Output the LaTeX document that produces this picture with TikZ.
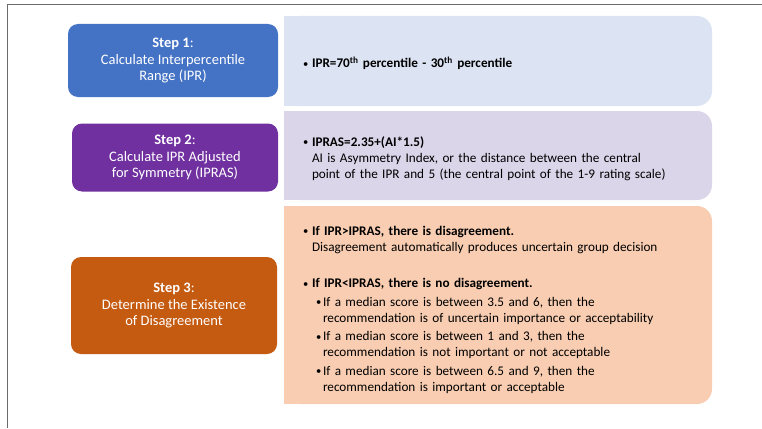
\documentclass[tikz,border=0pt]{standalone}
\usepackage{fontspec}
\setmainfont{Carlito}
\usetikzlibrary{backgrounds}

\definecolor{stepone}{HTML}{4472C4}
\definecolor{steptwo}{HTML}{7030A0}
\definecolor{stepthree}{HTML}{C55A11}
\definecolor{panelone}{HTML}{DCE3F2}
\definecolor{paneltwo}{HTML}{DAD5E9}
\definecolor{panelthree}{HTML}{F8CDB1}
\definecolor{frameline}{HTML}{6B6B6B}

%% bullet items for the right-hand panels
\newcommand\dotmark{\raisebox{0.6pt}{\scalebox{0.8}{\textbullet}}}
\newcommand\mainitem[1]{\par\noindent\hangindent=9pt\hangafter=1\makebox[9pt][l]{\dotmark}#1\par}
\newcommand\minoritem[1]{\par\noindent\hangindent=20pt\hangafter=1\hspace*{13pt}\makebox[7pt][l]{\dotmark}#1\par}

\begin{document}
\begin{tikzpicture}[x=1pt,y=-1pt]
  \tikzset{
    StepStyle/.style={fill=#1, text=white, rounded corners=10pt,
      align=center, inner sep=0pt, minimum width=210pt,
      font=\fontsize{14.5}{16.8}\selectfont},
    PanelStyle/.style={fill=#1, rounded corners=15pt, minimum width=428pt,
      inner xsep=19pt, inner ysep=0pt, text width=390pt, align=left,
      font=\fontsize{13.2}{16}\selectfont}
  }
  \useasboundingbox (0,0) rectangle (762,428);
  \draw[frameline, line width=1.6pt] (7.5,428) -- (7.5,4.5) -- (762,4.5);

  %% step boxes
  \node[StepStyle=stepone, minimum height=73pt] (S1) at (173,60.5)
    {\textbf{Step 1}:\\Calculate Interpercentile\\Range (IPR)};
  \node[StepStyle=steptwo, minimum height=68pt, minimum width=206pt] (S2) at (175,157.5)
    {\textbf{Step 2}:\\Calculate IPR Adjusted\\for Symmetry (IPRAS)};
  \node[StepStyle=stepthree, minimum height=97pt, minimum width=206pt] (S3) at (174,305.5)
    {\textbf{Step 3}:\\Determine the Existence\\of Disagreement};

  %% panels
  \node[PanelStyle=panelone, minimum height=90pt] (P1) at (498,61)
    {\mainitem{\textbf{IPR=70\textsuperscript{th} percentile - 30\textsuperscript{th} percentile}}};
  \node[PanelStyle=paneltwo, minimum height=89pt] (P2) at (498,155.5)
    {\mainitem{\textbf{IPRAS=2.35+(AI*1.5)}\newline AI is Asymmetry Index, or the distance between the central\newline point of the IPR and 5 (the central point of the 1-9 rating scale)}};
  \node[PanelStyle=panelthree, minimum height=198pt] (P3) at (498,305)
    {\setlength{\parskip}{2.5pt}%
     \mainitem{\textbf{If IPR>IPRAS, there is disagreement.}\newline Disagreement automatically produces uncertain group decision}
     \vspace{18pt}%
     \mainitem{\textbf{If IPR<IPRAS, there is no disagreement.}}
     \minoritem{If a median score is between 3.5 and 6, then the\newline recommendation is of uncertain importance or acceptability}
     \minoritem{If a median score is between 1 and 3, then the\newline recommendation is not important or not acceptable}
     \minoritem{If a median score is between 6.5 and 9, then the\newline recommendation is important or acceptable}
     \vspace{12pt}};

  %% square off the left side of each panel
  \begin{scope}[on background layer]
    \fill[panelone] (P1.north west) rectangle ([xshift=20pt]P1.south west);
    \fill[paneltwo] (P2.north west) rectangle ([xshift=20pt]P2.south west);
    \fill[panelthree] (P3.north west) rectangle ([xshift=20pt]P3.south west);
  \end{scope}
\end{tikzpicture}
\end{document}
